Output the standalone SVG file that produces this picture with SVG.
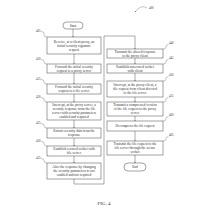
<svg xmlns="http://www.w3.org/2000/svg" width="212" height="212" viewBox="0 0 212 212">
<style>
.b{fill:#fff;stroke:#444;stroke-width:0.5}
.t{font-family:"Liberation Serif",serif;font-size:3.5px;fill:#333;text-anchor:middle}
.l{font-family:"Liberation Serif",serif;font-size:3px;fill:#333}
.c{fill:none;stroke:#444;stroke-width:0.45}
.h{fill:none;stroke:#555;stroke-width:0.35}
</style>
<defs>
<marker id="a" viewBox="0 0 6 6" refX="6" refY="3" markerWidth="3" markerHeight="3" orient="auto"><path d="M0,0 L6,3 L0,6 z" fill="#444"/></marker>
</defs>
<rect width="212" height="212" fill="#fff"/>
<g id="title">
<text class="l" x="149" y="9">400</text>
<path class="h" d="M147,8 q-5,-3 -9,1 q-2,2 -3,3" marker-end="url(#a)"/>
</g>
<g id="connectors">
<path class="c" d="M73,29 V37" marker-end="url(#a)"/>
<path class="c" d="M74,54 V64" marker-end="url(#a)"/>
<path class="c" d="M74,73 V84" marker-end="url(#a)"/>
<path class="c" d="M74,94 V102" marker-end="url(#a)"/>
<path class="c" d="M74,120 V128" marker-end="url(#a)"/>
<path class="c" d="M74,138 V146" marker-end="url(#a)"/>
<path class="c" d="M74,156 V163" marker-end="url(#a)"/>
<path class="c" d="M74,179 V184 H104 V36 H135 V49" marker-end="url(#a)"/>
<path class="c" d="M135,58 V64" marker-end="url(#a)"/>
<path class="c" d="M135,73 V81" marker-end="url(#a)"/>
<path class="c" d="M135,97 V102" marker-end="url(#a)"/>
<path class="c" d="M135,116 V121" marker-end="url(#a)"/>
<path class="c" d="M135,131 V141" marker-end="url(#a)"/>
<path class="c" d="M135,155 V163" marker-end="url(#a)"/>
</g>
<g id="start">
<rect class="b" x="63" y="22" width="20" height="7" rx="3.5"/>
<text class="t" x="73" y="26.7">Start</text>
</g>
<g id="n405">
<rect class="b" x="47" y="37" width="54" height="17"/>
<text class="t" x="74" y="42.7">Receive, at a client proxy, an</text>
<text class="t" x="74" y="46.7">initial security signature</text>
<text class="t" x="74" y="50.7">request</text>
<text class="l" x="36" y="32">405</text>
<path class="h" d="M41,31.5 q3,0 3,2 v1.5 q0,2 3,2"/>
</g>
<g id="n410">
<rect class="b" x="47" y="64" width="54" height="9"/>
<text class="t" x="74" y="67.7">Forward the initial security</text>
<text class="t" x="74" y="71.7">request to a proxy server</text>
<text class="l" x="36" y="60">410</text>
<path class="h" d="M41,59.5 q3,0 3,2 v0.5 q0,2 3,2"/>
</g>
<g id="n415">
<rect class="b" x="47" y="84" width="54" height="10"/>
<text class="t" x="74" y="88.2">Forward the initial security</text>
<text class="t" x="74" y="92.2">request to a file server</text>
<text class="l" x="36" y="80">415</text>
<path class="h" d="M41,79.5 q3,0 3,2 v0.5 q0,2 3,2"/>
</g>
<g id="n420">
<rect class="b" x="47" y="102" width="54" height="18"/>
<text class="t" x="74" y="106.2">Intercept, at the proxy server, a</text>
<text class="t" x="74" y="110.2">security response from the file</text>
<text class="t" x="74" y="114.2">server with security parameters</text>
<text class="t" x="74" y="118.2">enabled and required</text>
<text class="l" x="36" y="98">420</text>
<path class="h" d="M41,97.5 q3,0 3,2 v0.5 q0,2 3,2"/>
</g>
<g id="n425">
<rect class="b" x="47" y="128" width="54" height="10"/>
<text class="t" x="74" y="132.2">Extract security data from the</text>
<text class="t" x="74" y="136.2">response</text>
<text class="l" x="36" y="124">425</text>
<path class="h" d="M41,123.5 q3,0 3,2 v0.5 q0,2 3,2"/>
</g>
<g id="n430">
<rect class="b" x="47" y="146" width="54" height="10"/>
<text class="t" x="74" y="150.2">Establish secured socket with</text>
<text class="t" x="74" y="154.2">file server</text>
<text class="l" x="36" y="142">430</text>
<path class="h" d="M41,141.5 q3,0 3,2 v0.5 q0,2 3,2"/>
</g>
<g id="n435">
<rect class="b" x="47" y="163" width="54" height="16"/>
<text class="t" x="74" y="168.2">Alter the response by changing</text>
<text class="t" x="74" y="172.2">the security parameters to not</text>
<text class="t" x="74" y="176.2">enabled and not required</text>
<text class="l" x="36" y="159">435</text>
<path class="h" d="M41,158.5 q3,0 3,2 v0.5 q0,2 3,2"/>
</g>
<g id="n440">
<rect class="b" x="107" y="49" width="56" height="9"/>
<text class="t" x="135" y="52.7">Transmit the altered response</text>
<text class="t" x="135" y="56.7">to the proxy client</text>
<text class="l" x="169" y="44">440</text>
<path class="h" d="M163,49 q3,0 3,-2 v-0.5 q0,-2 2.5,-2"/>
</g>
<g id="n445">
<rect class="b" x="107" y="64" width="56" height="9"/>
<text class="t" x="135" y="67.7">Establish unsecured socket</text>
<text class="t" x="135" y="71.7">with client</text>
<text class="l" x="169" y="59">445</text>
<path class="h" d="M163,64 q3,0 3,-2 v-0.5 q0,-2 2.5,-2"/>
</g>
<g id="n450">
<rect class="b" x="107" y="81" width="56" height="16"/>
<text class="t" x="135" y="86.2">Intercept, at the proxy client, a</text>
<text class="t" x="135" y="90.2">file request from client directed</text>
<text class="t" x="135" y="94.2">to the file server</text>
<text class="l" x="169" y="76">450</text>
<path class="h" d="M163,81 q3,0 3,-2 v-0.5 q0,-2 2.5,-2"/>
</g>
<g id="n455">
<rect class="b" x="107" y="102" width="56" height="14"/>
<text class="t" x="135" y="106.2">Transmit a compressed version</text>
<text class="t" x="135" y="110.2">of the file request to the proxy</text>
<text class="t" x="135" y="114.2">server</text>
<text class="l" x="169" y="97">455</text>
<path class="h" d="M163,102 q3,0 3,-2 v-0.5 q0,-2 2.5,-2"/>
</g>
<g id="n460">
<rect class="b" x="107" y="121" width="56" height="10"/>
<text class="t" x="135" y="127.2">Decompress the file request</text>
<text class="l" x="169" y="116">460</text>
<path class="h" d="M163,121 q3,0 3,-2 v-0.5 q0,-2 2.5,-2"/>
</g>
<g id="n465">
<rect class="b" x="107" y="141" width="56" height="14"/>
<text class="t" x="135" y="145.2">Transmit the file request to the</text>
<text class="t" x="135" y="149.2">file server through the secure</text>
<text class="t" x="135" y="153.2">socket</text>
<text class="l" x="169" y="136">465</text>
<path class="h" d="M163,141 q3,0 3,-2 v-0.5 q0,-2 2.5,-2"/>
</g>
<g id="end">
<rect class="b" x="124" y="163" width="22" height="8" rx="4"/>
<text class="t" x="135" y="168.2">End</text>
</g>
<text x="104" y="205" font-family="Liberation Serif, serif" font-size="5" fill="#333" text-anchor="middle">FIG. 4</text>
</svg>
